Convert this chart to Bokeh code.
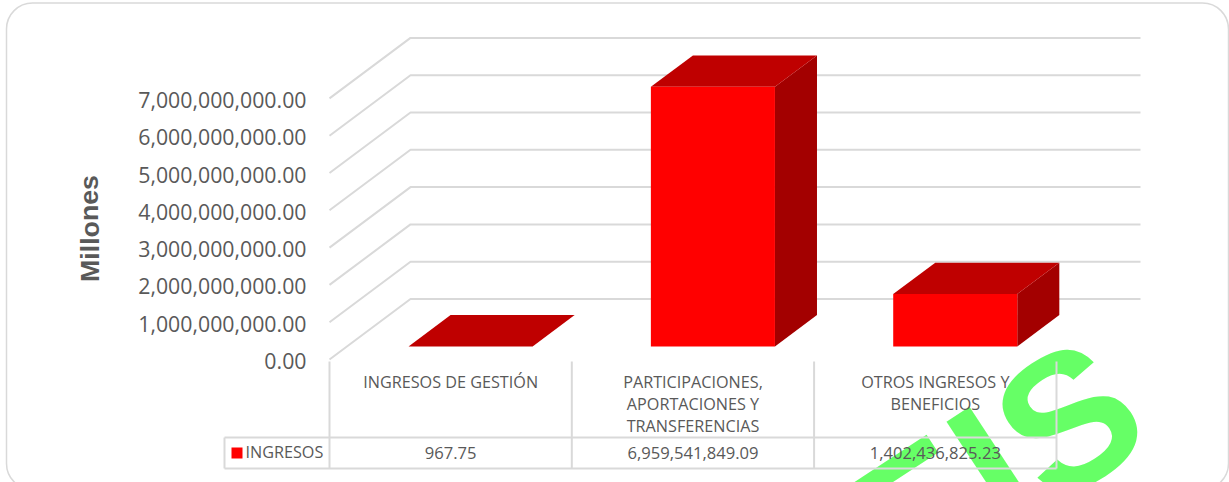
from bokeh.plotting import figure
from bokeh.models import Range1d
from bokeh.core.properties import value
from bokeh.embed import file_html
from bokeh.resources import INLINE

categories = ["INGRESOS DE GESTIÓN", "PARTICIPACIONES,\nAPORTACIONES Y\nTRANSFERENCIAS", "OTROS INGRESOS Y\nBENEFICIOS"]
ingresos = [967.75, 6959541849.09, 1402436825.23]
value_labels = ["967.75", "6,959,541,849.09", "1,402,436,825.23"]
y_ticks = [0, 1e9, 2e9, 3e9, 4e9, 5e9, 6e9, 7e9]
series_name = "INGRESOS"
axis_title = "Millones"

W, H = 1229, 482
X0, CW = 329.0, 242.33      # pixel of category 0 edge, category width
Y0, PXV = 359.0, 37.3 / 1e9 # pixel of value 0, px per unit
DX, DY = 81 / CW, 60.5 / PXV  # depth of the 3-D box, in data units
GRAY, TXT = "#d9d9d9", "#595959"
FONT = value("Open Sans")

p = figure(width=W, height=H, output_backend="svg", toolbar_location=None,
           x_range=Range1d(-X0 / CW, (W - X0) / CW),
           y_range=Range1d(-(H - Y0) / PXV, Y0 / PXV),
           min_border=0, outline_line_color=None)
p.axis.visible = False
p.grid.visible = False
p.extra_x_ranges["px"] = Range1d(0, W)
p.extra_y_ranges["px"] = Range1d(H, 0)
px = dict(x_range_name="px", y_range_name="px")

# frame + watermark
p.quad(left=[6], right=[1228], top=[2.5], bottom=[489], border_radius=26,
       fill_color="white", line_color="#d9d9d9", line_width=1.5, **px)
p.text(x=[750], y=[627], text=["DEIS"], angle=[0.58], text_font=value("Liberation Sans"),
       text_font_style="bold", text_font_size="190px", text_color="#66ff66",
       text_align="left", text_baseline="alphabetic", **px)

# walls
n = len(categories)
for v in y_ticks:
    p.line([0, DX, n + DX + 3 / CW], [v, v + DY, v + DY], line_color=GRAY, line_width=2)

# bars
D0, D1 = 0.216, 0.735
B0, B1 = 0.254, 0.766
for i, v in enumerate(ingresos):
    xl, xr = i + B0 + D0 * DX, i + B1 + D0 * DX
    yb = D0 * DY
    ddx, ddy = (D1 - D0) * DX, (D1 - D0) * DY
    yt = yb + v
    p.patch([xr, xr + ddx, xr + ddx, xr], [yb, yb + ddy, yt + ddy, yt], fill_color="#a30000", line_color=None)
    p.patch([xl, xr, xr + ddx, xl + ddx], [yt, yt, yt + ddy, yt + ddy], fill_color="#bf0000", line_color=None)
    p.quad(left=[xl], right=[xr], bottom=[yb], top=[yt], fill_color="#ff0000", line_color=None)

# tick labels
p.text(x=[-23 / CW] * len(y_ticks), y=y_ticks, y_offset=1.5, text=[f"{v:,.2f}" for v in y_ticks],
       text_font=FONT, text_font_size="21.3px", text_color=TXT,
       text_align="right", text_baseline="middle")
p.text(x=[89], y=[228], text=[axis_title], angle=[1.5708], text_font=value("Liberation Sans"),
       text_font_style="bold", text_font_size="26.7px", text_color=TXT,
       text_align="center", text_baseline="middle", **px)

# data table
for x in [224, 329, 571.3, 813.6, 1056]:
    p.line([x, x], [437 if x == 224 else 361, 468], line_color=GRAY, line_width=2, **px)
for y in [437, 468]:
    p.line([224, 1056], [y, y], line_color=GRAY, line_width=2, **px)
cx = [i + 0.5 for i in range(n)]
p.text(x=cx, y=[370] * n, text=categories, text_font=FONT, text_font_size="16.2px", text_color=TXT,
       text_align="center", text_baseline="top", text_line_height=1.02,
       y_range_name="px")
p.text(x=cx, y=[452] * n, text=value_labels, text_font=FONT, text_font_size="16.6px", text_color=TXT,
       text_align="center", text_baseline="middle", y_range_name="px")
p.quad(left=[231], right=[242], top=[447], bottom=[458], fill_color="#ff0000", line_color=None, **px)
p.text(x=[245], y=[451.5], text=[series_name], text_font=FONT, text_font_size="16.2px", text_color=TXT,
       text_align="left", text_baseline="middle", **px)

open("out.html", "w").write(file_html(p, INLINE))
